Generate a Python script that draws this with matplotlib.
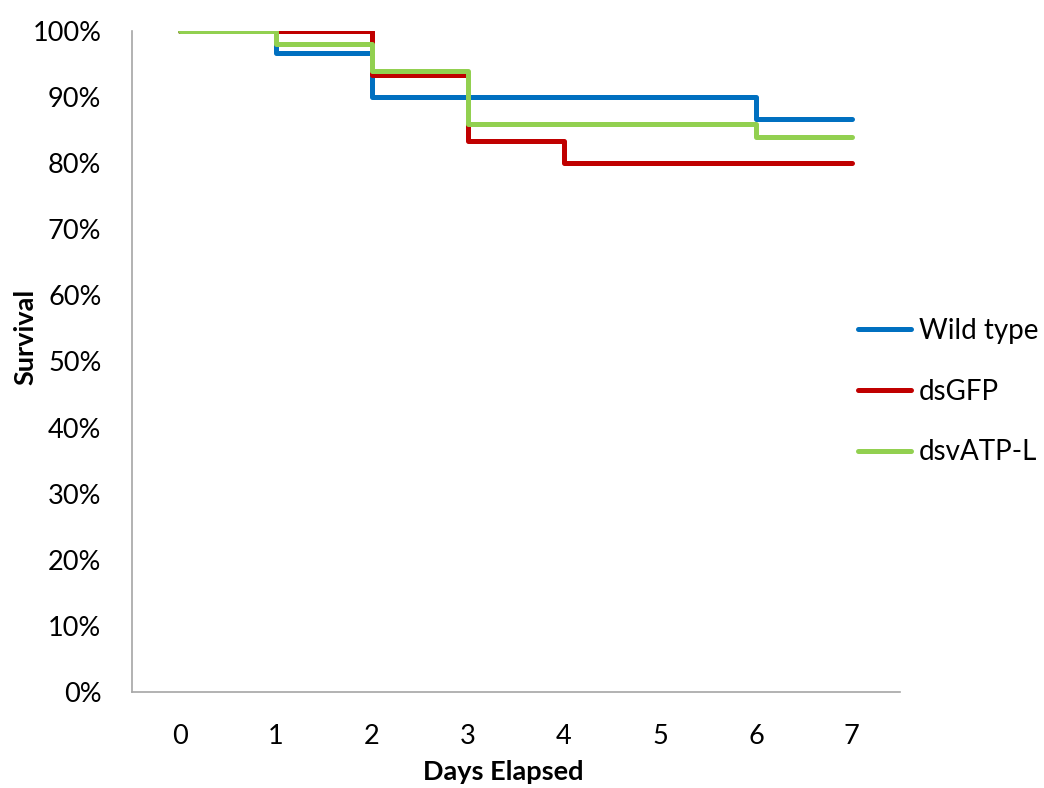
import matplotlib
matplotlib.use("Agg")
import matplotlib.pyplot as plt
from matplotlib.ticker import PercentFormatter

plt.rcParams['font.family'] = ['Lato', 'DejaVu Sans']

days = [0, 1, 2, 3, 4, 5, 6, 7]
wild_type = [100, 96.7, 90.0, 90.0, 90.0, 90.0, 86.7, 86.7]
ds_gfp = [100, 100, 93.3, 83.3, 80.0, 80.0, 80.0, 80.0]
ds_vatp = [100, 98.0, 94.0, 86.0, 86.0, 86.0, 84.0, 84.0]
series_names = ['Wild type', 'dsGFP', 'dsvATP-L']
colors = ['#0070C0', '#C00000', '#92D050']

fig = plt.figure(figsize=(10.44, 7.88), dpi=100)
ax = fig.add_axes([0.1264, 0.1218, 0.862 - 0.1264, 0.9607 - 0.1218])

for vals, name, c in zip([wild_type, ds_gfp, ds_vatp], series_names, colors):
    ax.plot(days, vals, drawstyle='steps-post', color=c, lw=3.6, label=name,
            solid_joinstyle='round', solid_capstyle='round')

ax.set_xlim(-0.5, 7.5)
ax.set_ylim(0, 100)
ax.set_yticks(range(0, 101, 10))
ax.yaxis.set_major_formatter(PercentFormatter(decimals=0))
ax.set_xticks(days)
ax.set_xticklabels([str(d) for d in days])
ax.tick_params(axis='both', length=0, labelsize=19.5)
ax.tick_params(axis='y', pad=22)
ax.tick_params(axis='x', pad=23)
for s in ['top', 'right']:
    ax.spines[s].set_visible(False)
for s in ['left', 'bottom']:
    ax.spines[s].set_color('#A6A6A6')
    ax.spines[s].set_linewidth(1.2)

fig.text(25 / 1044, 1 - 337 / 788, 'Survival', rotation=90, fontsize=19.5, fontweight='bold',
         ha='center', va='center')
fig.text(503 / 1044, 1 - 772 / 788, 'Days Elapsed', fontsize=19.5, fontweight='bold',
         ha='center', va='center')

leg = fig.legend(loc='upper left', bbox_to_anchor=(858 / 1044, 1 - 318 / 788), frameon=False,
                 fontsize=20, handlelength=1.9, handletextpad=0.3, labelspacing=1.25,
                 borderpad=0, borderaxespad=0)

fig.savefig('out.png', dpi=100)
